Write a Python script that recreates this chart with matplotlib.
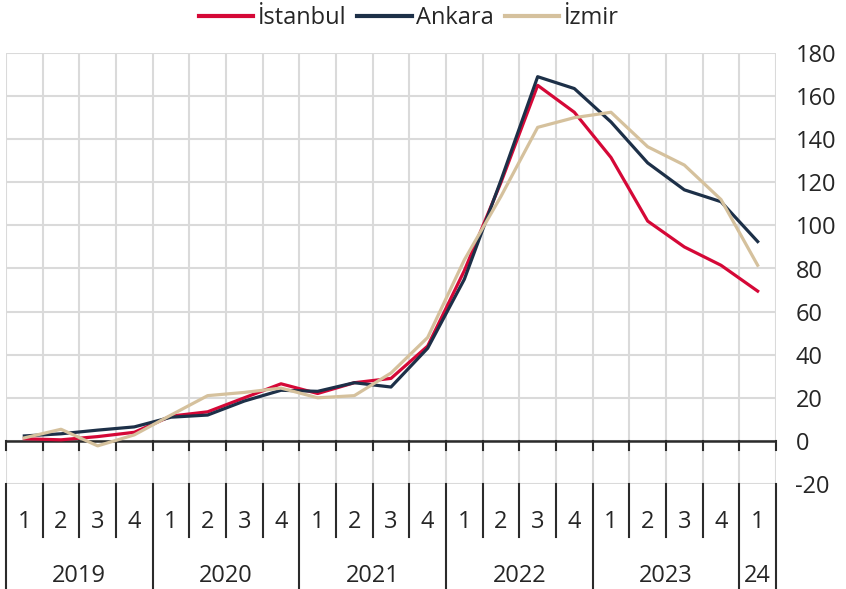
import numpy as np
import matplotlib
matplotlib.use('Agg')
import matplotlib.pyplot as plt

# Veriler (çeyreklik, 2019Q1 - 2024Q1)
quarter_labels = ['1', '2', '3', '4'] * 5 + ['1']
year_labels = ['2019', '2020', '2021', '2022', '2023', '24']
year_starts = [0, 4, 8, 12, 16, 20, 21]

istanbul = [1, 0.5, 2, 4, 11.5, 13.5, 20, 26.5, 22, 27, 29, 44, 79, 120,
            165, 152.5, 131.5, 102, 90, 81.5, 69.5]
ankara = [2.3, 3.3, 5, 6.5, 11, 12, 18.5, 23.5, 23, 27, 25, 43, 75, 121,
          169, 163.5, 148, 129, 116.5, 111, 92.5]
izmir = [1.4, 5.4, -2.3, 2.8, 12, 21, 22.5, 24.5, 20, 21, 31.5, 48, 84, 113.5,
         145.5, 150, 152.5, 136.5, 128, 112, 81.5]

RED = '#d50837'
NAVY = '#1d3048'
TAN = '#d5c19d'
GRID = '#dadada'
DARK = '#2b2b2b'
TXT = '#262626'

plt.rcParams['font.family'] = ['Open Sans', 'DejaVu Sans']
plt.rcParams['axes.unicode_minus'] = False

W, H = 846, 589
fig = plt.figure(figsize=(W / 100, H / 100), dpi=100)
ax = fig.add_axes([6 / W, 105 / H, 770 / W, 431 / H])

n = len(quarter_labels)
x = np.arange(n) + 0.5

ax.set_xlim(0, n)
ax.set_ylim(-20, 180)
ax.set_xticks(np.arange(n + 1))
ax.set_xticklabels([])
ax.set_yticks(np.arange(-20, 181, 20))
ax.yaxis.tick_right()
ax.tick_params(axis='y', length=0, pad=14, labelsize=17, labelcolor=TXT)
ax.tick_params(axis='x', length=0)
ax.grid(True, color=GRID, lw=1.5)
ax.set_axisbelow(True)
for s in ax.spines.values():
    s.set_visible(False)

# sıfır çizgisi ve küçük çentikler
ax.axhline(0, color=DARK, lw=1.8, zorder=2)
for b in range(n + 1):
    ax.plot([b, b], [0, -4], color=DARK, lw=1.5, clip_on=False, zorder=2)

# alt tablo: çeyrek ve yıl ayraçları
for b in range(n + 1):
    if b in year_starts:
        ax.plot([b, b], [-20, -70], color=DARK, lw=1.5, clip_on=False)
    else:
        ax.plot([b, b], [-20, -44.7], color=DARK, lw=1.5, clip_on=False)

for xi, q in zip(x, quarter_labels):
    ax.text(xi, -37.7, q, ha='center', va='center', fontsize=17, color=TXT,
            clip_on=False)
for i, yl in enumerate(year_labels):
    xc = (year_starts[i] + year_starts[i + 1]) / 2
    ax.text(xc, -62.5, yl, ha='center', va='center', fontsize=17, color=TXT,
            clip_on=False)

ax.plot(x, istanbul, color=RED, lw=2.3, label='İstanbul', zorder=3)
ax.plot(x, ankara, color=NAVY, lw=2.3, label='Ankara', zorder=3)
ax.plot(x, izmir, color=TAN, lw=2.3, label='İzmir', zorder=3)

leg = fig.legend(loc='center', bbox_to_anchor=(409 / W, 1 - 18 / H), ncol=3,
                 frameon=False, fontsize=17, handlelength=2.3,
                 handletextpad=0.2, columnspacing=0.45)
for t in leg.get_texts():
    t.set_color(TXT)
for h in leg.get_lines():
    h.set_linewidth(3)

fig.savefig('out.png', dpi=100)
